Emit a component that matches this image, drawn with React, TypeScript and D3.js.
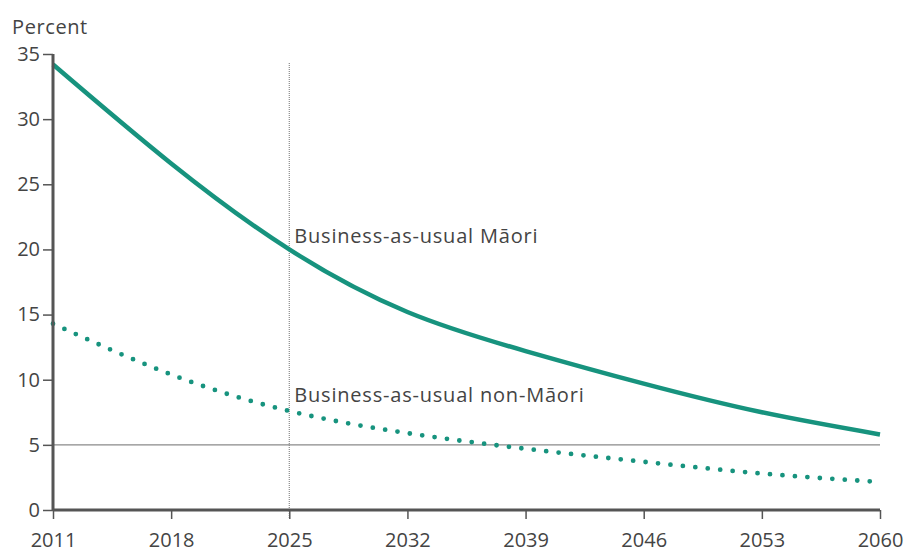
import * as d3 from 'd3'
import { useRef, useEffect } from 'react'

// tick years along the bottom
const years = [2011, 2018, 2025, 2032, 2039, 2046, 2053, 2060]
// business-as-usual Māori (percent), read at each tick year
const maori = [34.2, 26.6, 20.0, 15.2, 12.2, 9.7, 7.5, 5.8]
// business-as-usual non-Māori (percent)
const nonMaori = [14.3, 10.4, 7.6, 5.9, 4.7, 3.7, 2.8, 2.15]
const yTicks = [0, 5, 10, 15, 20, 25, 30, 35]

const W = 907
const H = 552
const margin = { top: 54, right: 27, bottom: 42, left: 53 }
const teal = '#17937e'
const font = '"Open Sans", "Noto Sans", sans-serif'

const App = () => {
    const svgRef = useRef<SVGSVGElement | null>(null)

    useEffect(() => {
        const svg = d3.select(svgRef.current)
        svg.selectAll('*').remove()

        const x = d3.scaleLinear().domain([2011, 2060]).range([margin.left, W - margin.right])
        const y = d3.scaleLinear().domain([0, 35]).range([H - margin.bottom, margin.top])

        const g = svg.append('g')

        // reference line at 5 percent
        g.append('line')
            .attr('x1', x(2011)).attr('x2', x(2060))
            .attr('y1', y(5)).attr('y2', y(5))
            .attr('stroke', '#8a8a8a').attr('stroke-width', 1.3)

        // vertical marker at 2025
        g.append('line')
            .attr('x1', x(2025)).attr('x2', x(2025))
            .attr('y1', y(34.3)).attr('y2', y(0) + 8)
            .attr('stroke', '#888').attr('stroke-width', 1.2)
            .attr('stroke-dasharray', '1 1')

        const line = d3.line<number>()
            .x((_, i) => x(years[i]))
            .y(d => y(d))
            .curve(d3.curveNatural)

        g.append('path')
            .attr('d', line(maori))
            .attr('fill', 'none')
            .attr('stroke', teal)
            .attr('stroke-width', 4.5)

        g.append('path')
            .attr('d', line(nonMaori))
            .attr('fill', 'none')
            .attr('stroke', teal)
            .attr('stroke-width', 4.8)
            .attr('stroke-linecap', 'round')
            .attr('stroke-dasharray', '0 12.5')

        // axes
        const yAxis = g.append('g')
            .attr('transform', `translate(${margin.left},0)`)
            .call(d3.axisLeft(y).tickValues(yTicks).tickSize(10).tickPadding(3))
        yAxis.select('.domain').attr('stroke', '#555').attr('stroke-width', 3)
            .attr('d', `M0,${y(35)}V${y(0)}`)
        yAxis.selectAll('.tick line').attr('stroke', '#555').attr('stroke-width', 1.5)
        yAxis.selectAll('.tick text')
            .attr('fill', '#444').style('font-family', font).style('font-size', '20px')

        const xAxis = g.append('g')
            .attr('transform', `translate(0,${y(0)})`)
            .call(d3.axisBottom(x).tickValues(years).tickFormat(d3.format('d')).tickSize(9).tickPadding(14))
        xAxis.select('.domain').attr('stroke', '#555').attr('stroke-width', 3)
            .attr('d', `M${x(2011)},0H${x(2060)}`)
        xAxis.selectAll('.tick line').attr('stroke', '#555').attr('stroke-width', 1.5)
        xAxis.selectAll('.tick text')
            .attr('fill', '#444').style('font-family', font).style('font-size', '20px')

        // labels
        svg.append('text')
            .attr('x', 12).attr('y', 34)
            .attr('fill', '#444')
            .style('font-family', font).style('font-size', '20px')
            .style('letter-spacing', '0.6px')
            .text('Percent')

        svg.append('text')
            .attr('x', x(2025) + 5).attr('y', y(20.5))
            .attr('fill', '#444')
            .style('font-family', font).style('font-size', '20px')
            .style('letter-spacing', '0.8px')
            .text('Business-as-usual Māori')

        svg.append('text')
            .attr('x', x(2025) + 5).attr('y', y(8.3))
            .attr('fill', '#444')
            .style('font-family', font).style('font-size', '20px')
            .style('letter-spacing', '0.8px')
            .text('Business-as-usual non-Māori')
    }, [])

    return (
        <svg ref={svgRef} width={W} height={H}
            style={{ position: 'absolute', left: 0, top: 0, background: '#fff' }} />
    )
}

export default App
